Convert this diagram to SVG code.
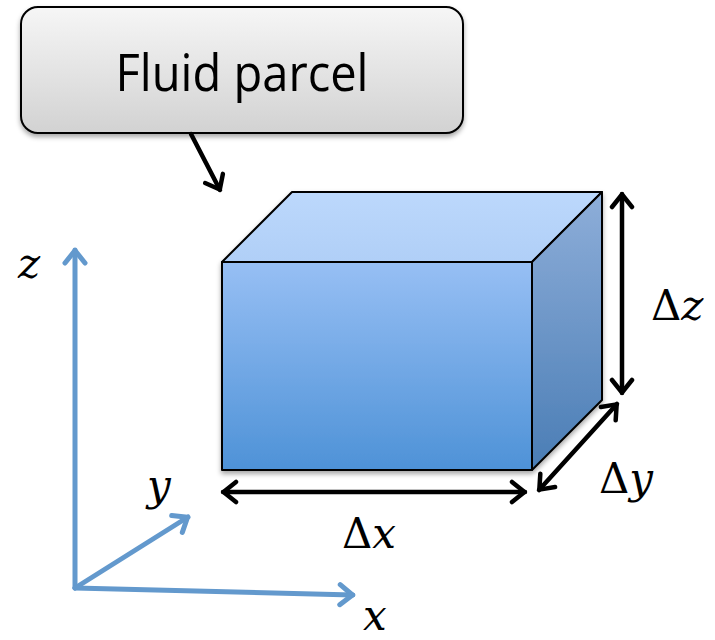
<svg xmlns="http://www.w3.org/2000/svg" width="715" height="640" viewBox="0 0 715 640">
<style>
.blk{stroke:#000;stroke-width:4.5;fill:none;stroke-linecap:round}
.ax{stroke:#6399cd;stroke-width:5;fill:none;stroke-linecap:round}
.math{font-family:'DejaVu Serif',serif;font-size:42px;fill:#000}
.it{font-style:italic}
.edge{stroke:#000;stroke-width:2;stroke-linejoin:round}
</style>
<defs>
<linearGradient id="gBox" x1="0" y1="0" x2="0" y2="1">
<stop offset="0" stop-color="#f6f6f6"/><stop offset="1" stop-color="#d2d2d2"/>
</linearGradient>
<linearGradient id="gFront" x1="0" y1="0" x2="0" y2="1">
<stop offset="0" stop-color="#97bff4"/><stop offset="1" stop-color="#4e92d7"/>
</linearGradient>
<linearGradient id="gTop" x1="0" y1="0" x2="0" y2="1">
<stop offset="0" stop-color="#bcd8fc"/><stop offset="1" stop-color="#b0cff7"/>
</linearGradient>
<linearGradient id="gSide" x1="0" y1="0" x2="0" y2="1">
<stop offset="0" stop-color="#8eaed9"/><stop offset="1" stop-color="#4a7db5"/>
</linearGradient>
<filter id="sh" x="-10%" y="-10%" width="120%" height="130%">
<feDropShadow dx="0" dy="3" stdDeviation="2.5" flood-color="#000" flood-opacity="0.35"/>
</filter>
<marker id="mB" viewBox="0 0 18 26" refX="16" refY="13" markerWidth="18" markerHeight="26" markerUnits="userSpaceOnUse" orient="auto-start-reverse">
<path d="M3,3 L15.5,13 L3,23" fill="none" stroke="#000" stroke-width="4.5" stroke-linecap="round" stroke-linejoin="round"/>
</marker>
<marker id="mA" viewBox="0 0 18 26" refX="16" refY="13" markerWidth="18" markerHeight="26" markerUnits="userSpaceOnUse" orient="auto">
<path d="M3,3 L15.5,13 L3,23" fill="none" stroke="#6399cd" stroke-width="5" stroke-linecap="round" stroke-linejoin="round"/>
</marker>
</defs>

<g id="callout">
<rect x="21" y="7" width="442" height="126" rx="17" fill="url(#gBox)" stroke="#000" stroke-width="2" filter="url(#sh)"/>
<text x="242" y="91" text-anchor="middle" font-family="'Open Sans','Liberation Sans',sans-serif" font-size="52" textLength="253" lengthAdjust="spacingAndGlyphs" fill="#000">Fluid parcel</text>
</g>

<g id="cube" filter="url(#sh)">
<polygon class="edge" points="222,262 292,192 602,192 532,262" fill="url(#gTop)"/>
<polygon class="edge" points="532,262 602,192 602,400 532,470" fill="url(#gSide)"/>
<rect class="edge" x="222" y="262" width="310" height="208" fill="url(#gFront)"/>
</g>

<g id="connectors">
<line class="blk" x1="191" y1="134" x2="220" y2="190" marker-end="url(#mB)"/>
<line class="blk" x1="622" y1="194" x2="622" y2="393" marker-start="url(#mB)" marker-end="url(#mB)"/>
<line class="blk" x1="617" y1="404" x2="539" y2="490" marker-start="url(#mB)" marker-end="url(#mB)"/>
<line class="blk" x1="223" y1="492" x2="525" y2="492" marker-start="url(#mB)" marker-end="url(#mB)"/>
<line class="ax" x1="75" y1="588" x2="75" y2="250" marker-end="url(#mA)"/>
<line class="ax" x1="75" y1="588" x2="188" y2="517" marker-end="url(#mA)"/>
<line class="ax" x1="75" y1="588" x2="353" y2="595" marker-end="url(#mA)"/>
</g>

<g id="labels">
<text class="math" x="651" y="320">Δ<tspan class="it">z</tspan></text>
<text class="math" x="599" y="493">Δ<tspan class="it">y</tspan></text>
<text class="math" x="342" y="548">Δ<tspan class="it">x</tspan></text>
<text class="math it" x="18" y="278">z</text>
<text class="math it" x="147" y="500">y</text>
<text class="math it" x="363" y="630">x</text>
</g>
</svg>
